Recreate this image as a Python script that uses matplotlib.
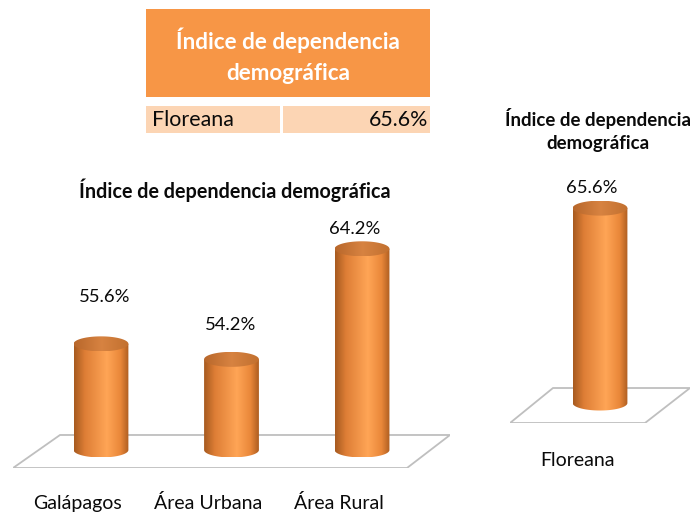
import numpy as np
import matplotlib
matplotlib.use("Agg")
import matplotlib.pyplot as plt
from matplotlib.path import Path
from matplotlib.patches import PathPatch, Polygon, Rectangle
from matplotlib.colors import LinearSegmentedColormap

plt.rcParams['font.family'] = ['Lato', 'DejaVu Sans']

# ---------------- data ----------------
left_title = "Índice de dependencia demográfica"
left_categories = ["Galápagos", "Área Urbana", "Área Rural"]
left_values = [55.6, 54.2, 64.2]

right_title = "Índice de dependencia\ndemográfica"
right_categories = ["Floreana"]
right_values = [65.6]

table_header = "Índice de dependencia\ndemográfica"
table_row_label = "Floreana"
table_row_value = 65.6

# ---------------- styling ----------------
W, H = 696, 515
fig = plt.figure(figsize=(W / 100, H / 100), dpi=100)
TEXT = "#0a0a0a"
HEADER = "#F79646"
CELL = "#FCD5B4"

body_cmap = LinearSegmentedColormap.from_list(
    "body", [(0, "#a65a20"), (0.2, "#de7e36"), (0.6, "#ffa556"), (0.85, "#e98739"), (1, "#ad5e21")])
top_cmap = LinearSegmentedColormap.from_list(
    "top", [(0, "#b8672b"), (0.5, "#d78341"), (1, "#c2702f")])


def px_axes(x0, y0, x1, y1):
    return fig.add_axes([x0 / W, 1 - y1 / H, (x1 - x0) / W, (y1 - y0) / H])


def clipped_gradient(ax, verts, extent, cmap):
    path = Path(verts, closed=True)
    patch = PathPatch(path, facecolor="none", edgecolor="none")
    ax.add_patch(patch)
    grad = np.linspace(0, 1, 256).reshape(1, -1)
    im = ax.imshow(grad, cmap=cmap, extent=extent, aspect="auto",
                   origin="lower", interpolation="bilinear", zorder=3)
    im.set_clip_path(patch)


def cylinder(ax, x, base, top, w, eh):
    x0, x1 = x - w / 2, x + w / 2
    t = np.linspace(0, np.pi, 80)
    arc = list(zip(x + (w / 2) * np.cos(t), base - (eh / 2) * np.sin(t)))
    body = [(x0, base), (x0, top), (x1, top)] + arc
    clipped_gradient(ax, body, [x0, x1, base - eh / 2, top], body_cmap)
    t2 = np.linspace(0, 2 * np.pi, 120)
    ell = list(zip(x + (w / 2) * np.cos(t2), top + (eh / 2) * np.sin(t2)))
    clipped_gradient(ax, ell, [x0, x1, top - eh / 2, top + eh / 2], top_cmap)


def chart(ax, cats, vals, base, xlim, ylim, floor, w, eh_px, lab_off, cat_off):
    ax.set_axis_off()
    ax.add_patch(Polygon(floor, closed=True, transform=ax.transAxes,
                         facecolor="white", edgecolor="#bfbfbf", lw=1.3, zorder=1))
    ax_h_px = ax.get_position().height * H
    eh = eh_px * (ylim[1] - ylim[0]) / ax_h_px
    for i, (c, v) in enumerate(zip(cats, vals)):
        cylinder(ax, i, base, v, w, eh)
        ax.annotate(f"{v:.1f}%", (i, v), xytext=lab_off[i], textcoords="offset pixels",
                    ha="center", va="center", fontsize=13.3, color=TEXT)
        ax.annotate(c, (i, 0), xycoords=("data", "axes fraction"), xytext=cat_off,
                    textcoords="offset pixels", ha="center", va="center",
                    fontsize=14, color=TEXT, annotation_clip=False)
    ax.set_xlim(*xlim)
    ax.set_ylim(*ylim)


# left chart
axL = px_axes(13, 230, 450, 468)
chart(axL, left_categories, left_values, 46.0, (-0.674, 2.674), (44.37, 65.9),
      [(0, 0), (0.9016, 0), (1, 0.1387), (0.1076, 0.1387)], 0.42, 15,
      [(4, 47), (-1, 34), (-7, 20)], (-23, -35))
fig.text(235 / W, 1 - 190 / H, left_title, ha="center", va="center",
         fontsize=14.2, fontweight="bold", color=TEXT)

# right chart
axR = px_axes(510, 190, 690, 423)
chart(axR, right_categories, right_values, 0.0, (-0.69, 0.69), (-6.73, 71.7),
      [(0, 0), (0.75, 0), (1, 0.1502), (0.2389, 0.1502)], 0.42, 15,
      [(-8, 20)], (-23, -37))
fig.text(598 / W, 1 - 130 / H, right_title, ha="center", va="center",
         fontsize=13.4, fontweight="bold", color=TEXT, linespacing=1.4)

# table
axT = fig.add_axes([0, 0, 1, 1])
axT.set_axis_off()
axT.set_xlim(0, W)
axT.set_ylim(H, 0)
axT.add_patch(Rectangle((146, 9), 284, 88, facecolor=HEADER, edgecolor="none"))
axT.text(288, 56, table_header, ha="center", va="center", fontsize=16.2,
         fontweight="bold", color="white", linespacing=1.6)
axT.add_patch(Rectangle((146, 106), 134, 27, facecolor=CELL, edgecolor="none"))
axT.add_patch(Rectangle((283, 106), 147, 27, facecolor=CELL, edgecolor="none"))
axT.text(152, 120, table_row_label, ha="left", va="center", fontsize=15.4, color=TEXT)
axT.text(428, 120, f"{table_row_value:.1f}%", ha="right", va="center", fontsize=15.4, color=TEXT)

fig.savefig("out.png", dpi=100)
